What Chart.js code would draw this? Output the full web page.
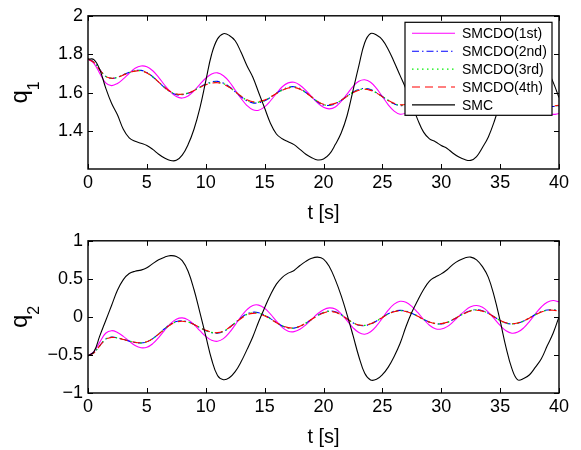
<!DOCTYPE html>
<html>
<head>
<meta charset="utf-8">
<script src="https://cdn.jsdelivr.net/npm/chart.js@4.4.1/dist/chart.umd.min.js"></script>
<style>
  html, body { margin: 0; padding: 0; background: #fff; }
  #wrap { position: relative; width: 581px; height: 450px; }
  canvas { position: absolute; left: 0; }
  #c1 { top: 0; }
  #c2 { top: 225px; }
</style>
</head>
<body>
<div id="wrap">
  <canvas id="c1" width="581" height="225"></canvas>
  <canvas id="c2" width="581" height="225"></canvas>
</div>
<script>
// time samples [s]
const T = [
  0, 0.5, 1, 1.5, 2, 2.5, 3, 3.5, 4, 4.5,
  5, 5.5, 6, 6.5, 7, 7.5, 8, 8.5, 9, 9.5,
  10, 10.5, 11, 11.5, 12, 12.5, 13, 13.5, 14, 14.5,
  15, 15.5, 16, 16.5, 17, 17.5, 18, 18.5, 19, 19.5,
  20, 20.5, 21, 21.5, 22, 22.5, 23, 23.5, 24, 24.5,
  25, 25.5, 26, 26.5, 27, 27.5, 28, 28.5, 29, 29.5,
  30, 30.5, 31, 31.5, 32, 32.5, 33, 33.5, 34, 34.5,
  35, 35.5, 36, 36.5, 37, 37.5, 38, 38.5, 39, 39.5,
  40
];

const SERIES_NAMES = ['SMCDO(1st)', 'SMCDO(2nd)', 'SMCDO(3rd)', 'SMCDO(4th)', 'SMC'];

const X_TICKS = [0, 5, 10, 15, 20, 25, 30, 35, 40];
const Q1_TICKS = [1.4, 1.6, 1.8, 2];
const Q2_TICKS = [-1, -0.5, 0, 0.5, 1];

// joint 1
const q1_1st = [
  1.775, 1.753, 1.70, 1.651, 1.637, 1.648, 1.672, 1.701, 1.727, 1.739,
  1.735, 1.714, 1.68, 1.64, 1.605, 1.58, 1.572, 1.583, 1.609, 1.643,
  1.675, 1.697, 1.703, 1.688, 1.657, 1.614, 1.57, 1.533, 1.511, 1.509,
  1.526, 1.558, 1.596, 1.631, 1.651, 1.654, 1.639, 1.612, 1.579, 1.547,
  1.524, 1.516, 1.526, 1.555, 1.593, 1.632, 1.659, 1.667, 1.654, 1.622,
  1.58, 1.537, 1.504, 1.488, 1.495, 1.52, 1.559, 1.602, 1.639, 1.661,
  1.663, 1.645, 1.611, 1.569, 1.529, 1.50, 1.49, 1.501, 1.53, 1.572,
  1.614, 1.646, 1.661, 1.656, 1.633, 1.597, 1.556, 1.519, 1.495, 1.487,
  1.492
];
const q1_2nd = [
  1.775, 1.759, 1.72, 1.685, 1.674, 1.68, 1.693, 1.706, 1.715, 1.716,
  1.705, 1.683, 1.655, 1.627, 1.604, 1.59, 1.589, 1.597, 1.611, 1.629,
  1.645, 1.656, 1.659, 1.65, 1.631, 1.605, 1.579, 1.558, 1.547, 1.548,
  1.558, 1.576, 1.597, 1.615, 1.628, 1.631, 1.621, 1.601, 1.576, 1.552,
  1.536, 1.534, 1.542, 1.56, 1.582, 1.603, 1.617, 1.622, 1.616, 1.60,
  1.58, 1.559, 1.542, 1.533, 1.536, 1.548, 1.567, 1.588, 1.607, 1.618,
  1.619, 1.61, 1.593, 1.571, 1.551, 1.536, 1.531, 1.536, 1.551, 1.572,
  1.594, 1.61, 1.618, 1.615, 1.602, 1.584, 1.562, 1.544, 1.531, 1.528,
  1.532
];
const q1_3rd = [
  1.775, 1.758, 1.72, 1.685, 1.675, 1.68, 1.692, 1.705, 1.713, 1.714,
  1.704, 1.682, 1.655, 1.628, 1.605, 1.592, 1.591, 1.598, 1.611, 1.628,
  1.643, 1.653, 1.655, 1.647, 1.629, 1.605, 1.581, 1.561, 1.55, 1.551,
  1.56, 1.577, 1.596, 1.613, 1.626, 1.629, 1.619, 1.60, 1.577, 1.554,
  1.538, 1.536, 1.544, 1.561, 1.582, 1.602, 1.615, 1.62, 1.614, 1.599,
  1.58, 1.56, 1.544, 1.535, 1.538, 1.549, 1.567, 1.587, 1.605, 1.616,
  1.617, 1.609, 1.592, 1.571, 1.552, 1.538, 1.533, 1.538, 1.552, 1.572,
  1.593, 1.609, 1.616, 1.614, 1.601, 1.584, 1.563, 1.546, 1.533, 1.53,
  1.534
];
const q1_4th = [
  1.775, 1.758, 1.719, 1.685, 1.675, 1.68, 1.692, 1.704, 1.712, 1.713,
  1.703, 1.682, 1.655, 1.628, 1.606, 1.593, 1.592, 1.598, 1.611, 1.627,
  1.641, 1.65, 1.652, 1.644, 1.628, 1.605, 1.582, 1.563, 1.553, 1.554,
  1.562, 1.578, 1.596, 1.612, 1.624, 1.627, 1.618, 1.60, 1.577, 1.555,
  1.54, 1.538, 1.545, 1.561, 1.581, 1.60, 1.613, 1.618, 1.612, 1.598,
  1.579, 1.56, 1.545, 1.537, 1.539, 1.55, 1.567, 1.586, 1.603, 1.614,
  1.615, 1.607, 1.591, 1.571, 1.553, 1.54, 1.535, 1.539, 1.553, 1.572,
  1.592, 1.607, 1.614, 1.612, 1.60, 1.583, 1.563, 1.547, 1.535, 1.532,
  1.535
];
const q1_smc = [
  1.775, 1.772, 1.72, 1.625, 1.545, 1.485, 1.41, 1.365, 1.347, 1.337,
  1.325, 1.305, 1.28, 1.26, 1.247, 1.248, 1.275, 1.33, 1.41, 1.52,
  1.66, 1.80, 1.88, 1.907, 1.898, 1.87, 1.81, 1.74, 1.68, 1.60,
  1.52, 1.44, 1.385, 1.36, 1.345, 1.33, 1.305, 1.28, 1.262, 1.25,
  1.255, 1.28, 1.33, 1.39, 1.48, 1.61, 1.74, 1.86, 1.908, 1.90,
  1.875, 1.825, 1.76, 1.69, 1.62, 1.54, 1.46, 1.395, 1.36, 1.345,
  1.325, 1.31, 1.285, 1.265, 1.252, 1.248, 1.268, 1.315, 1.37, 1.45,
  1.55, 1.68, 1.81, 1.89, 1.905, 1.89, 1.85, 1.79, 1.72, 1.655,
  1.575
];

// joint 2
const q2_1st = [
  -0.51, -0.457, -0.331, -0.215, -0.181, -0.205, -0.256, -0.319, -0.375, -0.405,
  -0.40, -0.352, -0.272, -0.177, -0.09, -0.031, -0.013, -0.039, -0.10, -0.18,
  -0.256, -0.308, -0.321, -0.286, -0.208, -0.104, 0.005, 0.096, 0.15, 0.155,
  0.113, 0.036, -0.056, -0.138, -0.188, -0.194, -0.163, -0.104, -0.031, 0.041,
  0.095, 0.119, 0.103, 0.041, -0.049, -0.14, -0.206, -0.227, -0.195, -0.119,
  -0.016, 0.088, 0.168, 0.205, 0.192, 0.139, 0.058, -0.032, -0.109, -0.155,
  -0.16, -0.128, -0.066, 0.009, 0.08, 0.132, 0.15, 0.127, 0.064, -0.023,
  -0.112, -0.182, -0.214, -0.20, -0.145, -0.059, 0.04, 0.13, 0.192, 0.215,
  0.198
];
const q2_2nd = [
  -0.51, -0.471, -0.378, -0.292, -0.266, -0.276, -0.295, -0.318, -0.336, -0.343,
  -0.327, -0.285, -0.223, -0.156, -0.098, -0.06, -0.051, -0.066, -0.099, -0.141,
  -0.181, -0.208, -0.215, -0.192, -0.141, -0.076, -0.011, 0.04, 0.062, 0.055,
  0.024, -0.023, -0.074, -0.119, -0.145, -0.148, -0.126, -0.083, -0.031, 0.02,
  0.059, 0.077, 0.067, 0.029, -0.025, -0.077, -0.11, -0.114, -0.093, -0.054,
  -0.005, 0.041, 0.074, 0.086, 0.076, 0.048, 0.009, -0.033, -0.069, -0.09,
  -0.092, -0.073, -0.036, 0.009, 0.052, 0.083, 0.094, 0.081, 0.047, 0.0,
  -0.047, -0.081, -0.094, -0.083, -0.055, -0.013, 0.031, 0.068, 0.09, 0.093,
  0.08
];
const q2_3rd = [
  -0.51, -0.471, -0.379, -0.294, -0.268, -0.277, -0.296, -0.318, -0.335, -0.342,
  -0.327, -0.286, -0.225, -0.159, -0.102, -0.064, -0.055, -0.068, -0.10, -0.14,
  -0.178, -0.204, -0.211, -0.189, -0.14, -0.078, -0.016, 0.033, 0.054, 0.049,
  0.019, -0.026, -0.075, -0.118, -0.143, -0.146, -0.124, -0.082, -0.032, 0.018,
  0.056, 0.074, 0.064, 0.027, -0.026, -0.076, -0.108, -0.112, -0.092, -0.054,
  -0.006, 0.039, 0.071, 0.083, 0.074, 0.047, 0.009, -0.033, -0.068, -0.088,
  -0.09, -0.072, -0.036, 0.008, 0.05, 0.081, 0.091, 0.079, 0.046, 0.0,
  -0.046, -0.08, -0.092, -0.082, -0.054, -0.013, 0.03, 0.066, 0.088, 0.091,
  0.079
];
const q2_4th = [
  -0.51, -0.472, -0.38, -0.296, -0.27, -0.278, -0.296, -0.318, -0.334, -0.34,
  -0.326, -0.286, -0.226, -0.161, -0.105, -0.068, -0.058, -0.07, -0.10, -0.139,
  -0.176, -0.20, -0.207, -0.186, -0.139, -0.079, -0.02, 0.026, 0.046, 0.042,
  0.014, -0.029, -0.076, -0.117, -0.141, -0.143, -0.122, -0.081, -0.032, 0.016,
  0.052, 0.07, 0.061, 0.025, -0.026, -0.075, -0.106, -0.11, -0.09, -0.053,
  -0.007, 0.037, 0.068, 0.08, 0.071, 0.045, 0.008, -0.032, -0.066, -0.086,
  -0.088, -0.07, -0.035, 0.007, 0.048, 0.078, 0.088, 0.076, 0.044, 0.0,
  -0.045, -0.078, -0.09, -0.08, -0.053, -0.013, 0.029, 0.064, 0.085, 0.088,
  0.077
];
const q2_smc = [
  -0.51, -0.46, -0.25, -0.05, 0.15, 0.35, 0.49, 0.57, 0.60, 0.615,
  0.645, 0.70, 0.75, 0.785, 0.805, 0.795, 0.74, 0.60, 0.36, 0.06,
  -0.25, -0.56, -0.77, -0.825, -0.80, -0.72, -0.59, -0.43, -0.26, -0.06,
  0.12, 0.29, 0.43, 0.52, 0.575, 0.61, 0.675, 0.73, 0.77, 0.785,
  0.76, 0.66, 0.49, 0.28, 0.03, -0.24, -0.52, -0.74, -0.828, -0.82,
  -0.76, -0.66, -0.52, -0.35, -0.13, 0.06, 0.215, 0.36, 0.47, 0.525,
  0.565, 0.62, 0.69, 0.74, 0.775, 0.785, 0.75, 0.66, 0.52, 0.27,
  -0.05, -0.40, -0.68, -0.828, -0.81, -0.76, -0.66, -0.55, -0.38, -0.215,
  0.0
];

// line styles, same order as SERIES_NAMES
const STYLES = [
  { color: '#ff00ff', dash: [], width: 1.1, order: 5 },
  { color: '#0000ff', dash: [7, 3, 1.5, 3], width: 1.1, order: 4 },
  { color: '#00ee00', dash: [1.5, 3.5], width: 1.3, order: 3 },
  { color: '#ff0000', dash: [8, 5], width: 1.1, order: 2 },
  { color: '#000000', dash: [], width: 1.1, order: 1 }
];

const FONT = "'Liberation Sans', Arial, Helvetica, sans-serif";

function makeDatasets(seriesList) {
  return seriesList.map((vals, k) => ({
    label: SERIES_NAMES[k],
    data: vals.map((v, i) => ({ x: T[i], y: v })),
    borderColor: STYLES[k].color,
    borderDash: STYLES[k].dash,
    borderWidth: STYLES[k].width,
    pointRadius: 0,
    tension: 0.4,
    fill: false,
    order: STYLES[k].order
  }));
}

// box around the axes with inward ticks on all four sides, plus axis labels
const framePlugin = {
  id: 'frame',
  afterDatasetsDraw(chart, args, opts) {
    const { ctx, chartArea: a, scales } = chart;
    const len = 5;
    ctx.save();
    ctx.strokeStyle = '#000';
    ctx.lineWidth = 1;
    ctx.beginPath();
    X_TICKS.forEach(v => {
      const px = Math.round(scales.x.getPixelForValue(v)) + 0.5;
      ctx.moveTo(px, a.bottom); ctx.lineTo(px, a.bottom - len);
      ctx.moveTo(px, a.top); ctx.lineTo(px, a.top + len);
    });
    opts.yTicks.forEach(v => {
      const py = Math.round(scales.y.getPixelForValue(v)) + 0.5;
      ctx.moveTo(a.left, py); ctx.lineTo(a.left + len, py);
      ctx.moveTo(a.right, py); ctx.lineTo(a.right - len, py);
    });
    ctx.stroke();
    ctx.lineWidth = 1.4;
    ctx.strokeRect(a.left, a.top, a.right - a.left, a.bottom - a.top);

    // x axis title
    ctx.fillStyle = '#000';
    ctx.font = '20px ' + FONT;
    ctx.textAlign = 'center';
    ctx.textBaseline = 'alphabetic';
    ctx.fillText('t [s]', (a.left + a.right) / 2, a.bottom + 50);

    // y axis title with subscript, rotated
    const cy = (a.top + a.bottom) / 2;
    ctx.translate(27, cy);
    ctx.rotate(-Math.PI / 2);
    ctx.font = '24px ' + FONT;
    const wq = ctx.measureText('q').width;
    ctx.font = '16px ' + FONT;
    const ws = ctx.measureText(opts.sub).width;
    const x0 = -(wq + ws) / 2;
    ctx.textAlign = 'left';
    ctx.font = '24px ' + FONT;
    ctx.fillText('q', x0, 0);
    ctx.font = '16px ' + FONT;
    ctx.fillText(opts.sub, x0 + wq, 12);
    ctx.restore();
  }
};

// boxed legend in the upper right corner of the axes
const boxLegendPlugin = {
  id: 'boxLegend',
  afterDraw(chart, args, opts) {
    if (!opts.show) return;
    const { ctx, chartArea: a } = chart;
    const right = a.right - 7, top = a.top + 6.5;
    const w = 147, h = 93, rowH = 17.9;
    const left = right - w;
    ctx.save();
    ctx.fillStyle = '#fff';
    ctx.fillRect(left, top, w, h);
    ctx.strokeStyle = '#000';
    ctx.lineWidth = 1.2;
    ctx.strokeRect(left, top, w, h);
    ctx.font = '14px ' + FONT;
    ctx.textBaseline = 'middle';
    ctx.textAlign = 'left';
    SERIES_NAMES.forEach((name, k) => {
      const y = top + 11 + k * rowH;
      ctx.strokeStyle = STYLES[k].color;
      ctx.lineWidth = STYLES[k].width;
      ctx.setLineDash(STYLES[k].dash);
      ctx.beginPath();
      ctx.moveTo(left + 7, y);
      ctx.lineTo(left + 50, y);
      ctx.stroke();
      ctx.setLineDash([]);
      ctx.fillStyle = '#000';
      ctx.fillText(name, left + 57, y + 1);
    });
    ctx.restore();
  }
};

function fmtQ1(v) {
  return v === 2 ? '2' : v.toFixed(1);
}
function fmtQ2(v) {
  if (v === 0) return '0';
  return (v < 0 ? '\u2212' : '') + String(Math.abs(v));
}

function makeChart(id, seriesList, yMin, yMax, yTicks, fmt, sub, padTop, xHeight, legend) {
  return new Chart(document.getElementById(id), {
    type: 'line',
    data: { datasets: makeDatasets(seriesList) },
    options: {
      responsive: false,
      animation: false,
      layout: { padding: { top: padTop, right: 22, left: 0, bottom: 0 } },
      plugins: {
        legend: { display: false },
        tooltip: { enabled: false },
        frame: { yTicks: yTicks, sub: sub },
        boxLegend: { show: legend }
      },
      scales: {
        x: {
          type: 'linear',
          min: 0,
          max: 40,
          afterBuildTicks: s => { s.ticks = X_TICKS.map(v => ({ value: v })); },
          afterFit: s => { s.height = xHeight; },
          ticks: { color: '#000', font: { family: FONT, size: 18 }, padding: 3, maxRotation: 0, autoSkip: false },
          grid: { display: false, drawTicks: false },
          border: { display: false }
        },
        y: {
          min: yMin,
          max: yMax,
          afterBuildTicks: s => { s.ticks = yTicks.map(v => ({ value: v })); },
          afterFit: s => { s.width = 88; },
          ticks: { color: '#000', font: { family: FONT, size: 18 }, padding: 5, callback: v => fmt(v) },
          grid: { display: false, drawTicks: false },
          border: { display: false }
        }
      }
    },
    plugins: [framePlugin, boxLegendPlugin]
  });
}

makeChart('c1', [q1_1st, q1_2nd, q1_3rd, q1_4th, q1_smc], 1.203, 2, Q1_TICKS, fmtQ1, '1', 15, 56, true);
makeChart('c2', [q2_1st, q2_2nd, q2_3rd, q2_4th, q2_smc], -1, 1, Q2_TICKS, fmtQ2, '2', 13, 57, false);
</script>
</body>
</html>
